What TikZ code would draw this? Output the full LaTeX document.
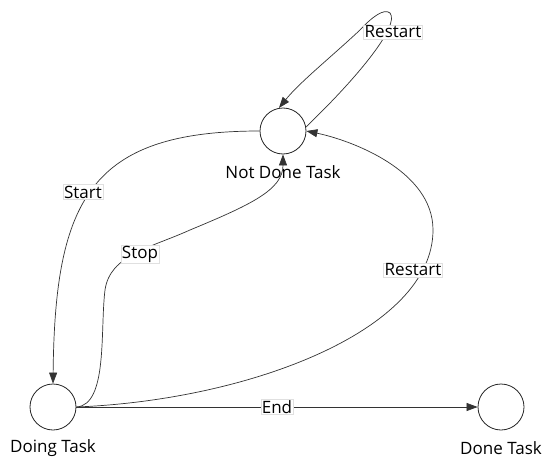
\documentclass[tikz,border=0pt]{standalone}
\usepackage{fontspec}
\setmainfont{Open Sans}
\usetikzlibrary{arrows.meta}
\begin{document}
\begin{tikzpicture}[x=1pt,y=-1pt,
  state/.style={draw=black!85,circle,minimum size=46pt,inner sep=0pt,line width=0.8pt},
  statecap/.style={font=\fontsize{17}{20}\selectfont,inner sep=0pt},
  lbl/.style={font=\fontsize{17}{20}\selectfont,fill=white,draw=black!12,line width=0.6pt,inner sep=1pt},
  edge/.style={draw=black!80,line width=0.7pt,-{Triangle[length=11pt,width=8pt]}}]
\useasboundingbox (0,0) rectangle (552,471);
\node[state] (nd) at (283,131) {};
\node[state] (dt) at (53,407) {};
\node[state] (done) at (501,407) {};
\node[statecap] (ndl) at (283,172) {Not Done Task};
\node[statecap] (dtl) at (53,448) {Doing Task};
\node[statecap] (donel) at (501,448) {Done Task};
% Start
\draw[edge] (nd.west) .. controls (90,131) and (55,200) .. (dt.north);
% Stop
\draw[edge] (dt.east) .. controls (108,405) and (100,330) .. (105,290)
  .. controls (110,255) and (150,248) .. (190,230)
  .. controls (250,205) and (283,190) .. (nd.south);
% Restart big
\draw[edge] (dt.east) .. controls (250,400) and (433,330) .. (433,230)
  .. controls (433,170) and (350,140) .. (nd.east);
% self loop
\draw[edge] (nd.10) .. controls (360,75) and (400,25) .. (390,13)
  .. controls (384,8) and (372,17) .. (360,30)
  .. controls (330,58) and (300,82) .. (nd.100);
% End
\draw[edge] (dt.east) -- (done.west);
\node[lbl] (l1) at (83,192) {Start};
\node[lbl] (l2) at (140,254) {Stop};
\node[lbl] (l3) at (413,270) {Restart};
\node[lbl] (l4) at (393,32) {Restart};
\node[lbl] (l5) at (277,407) {End};
\end{tikzpicture}
\end{document}
